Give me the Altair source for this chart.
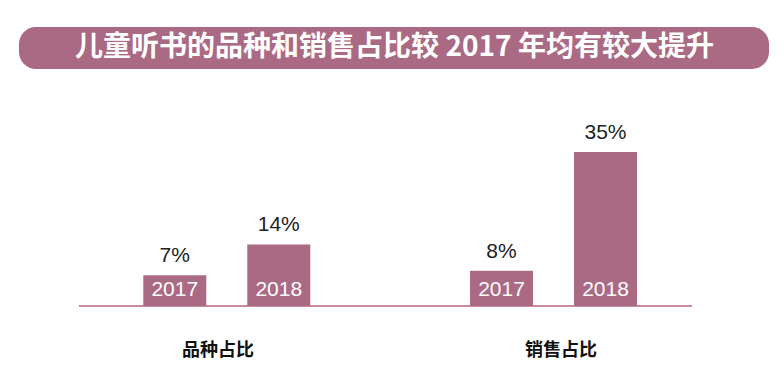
import altair as alt
import pandas as pd

title_text = "儿童听书的品种和销售占比较 2017 年均有较大提升"
groups = ["品种占比", "品种占比", "销售占比", "销售占比"]
years = ["2017", "2018", "2017", "2018"]
values = [7, 14, 8, 35]
value_labels = ["7%", "14%", "8%", "35%"]
group_order = ["品种占比", "销售占比"]

df = pd.DataFrame({"group": groups, "year": years, "value": values, "label": value_labels})
cat_df = pd.DataFrame({"group": group_order})
one = pd.DataFrame({"k": [0]})

BAR = "#AB6A84"
CJK = "Noto Sans CJK SC"
LAT = "Liberation Sans"
OFF = {"2017": -52, "2018": 52}

xenc = alt.X("group:N", sort=group_order, axis=None,
             scale=alt.Scale(range=[55.4, 708.9], paddingInner=0, paddingOuter=0))
xcat = alt.X("group:N", sort=group_order, axis=None,
             scale=alt.Scale(range=[38.5, 724.5], paddingInner=0, paddingOuter=0))
yenc = alt.Y("value:Q", axis=None, scale=alt.Scale(domain=[0, 40], range=[298, 122], nice=False, zero=True))

layers = []
banner = alt.Chart(one).mark_rect(color=BAR, cornerRadius=17).encode(
    x=alt.value(11), x2=alt.value(761), y=alt.value(19), y2=alt.value(61))
title = alt.Chart(one).mark_text(font=CJK, fontSize=28, fontWeight="bold", color="white", baseline="middle").encode(
    x=alt.value(386.5), y=alt.value(40), text=alt.value(title_text))
baseline = alt.Chart(df).mark_rule(color="#C88AA5", strokeWidth=1.3).encode(
    y=alt.Y("zero:Q", axis=None), x=alt.value(71), x2=alt.value(684)).transform_calculate(zero="0")
layers += [banner, title, baseline]

for yr, off in OFF.items():
    base = alt.Chart(df).transform_filter(alt.datum.year == yr)
    layers.append(base.mark_bar(color=BAR, width=63, xOffset=off).encode(x=xenc, y=yenc))
    layers.append(base.mark_text(font=LAT, fontSize=21, color="#222222", baseline="alphabetic",
                                 dx=off, dy=-13).encode(x=xenc, y=yenc, text="label:N"))
    layers.append(base.mark_text(font=LAT, fontSize=21, color="white", baseline="alphabetic",
                                 dx=off, dy=-10).encode(x=xenc, y=alt.Y("zero:Q", axis=None), text="year:N")
                  .transform_calculate(zero="0"))

cat_text = alt.Chart(cat_df).mark_text(font=CJK, fontSize=18, fontWeight="bold", color="#111111", baseline="middle").encode(
    x=xcat, y=alt.value(343), text="group:N")
layers.append(cat_text)

chart = alt.layer(*layers).resolve_scale(x="independent").properties(
    width=768, height=356, padding=0, background="white", autosize=alt.AutoSizeParams(type="none")
).configure_view(stroke=None)

chart.save("out.html", embed_options={"renderer": "svg", "actions": False})
